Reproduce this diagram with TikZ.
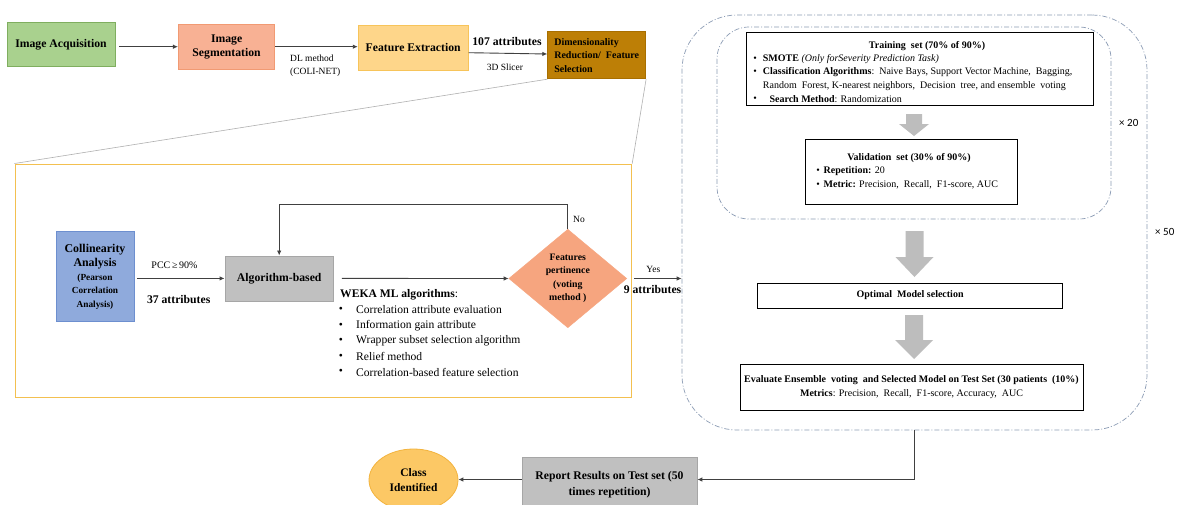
\documentclass[tikz,border=0pt]{standalone}
\usepackage{fontspec}
\setmainfont{Liberation Serif}
\newfontfamily\carl{Carlito}
\usetikzlibrary{arrows.meta,shapes.geometric,calc}
\definecolor{linec}{HTML}{404040}
\definecolor{gfill}{HTML}{A9D18E}
\definecolor{gdraw}{HTML}{7FAE5F}
\definecolor{sfill}{HTML}{F8B194}
\definecolor{sdraw}{HTML}{F19A73}
\definecolor{ffill}{HTML}{FED68A}
\definecolor{fdraw}{HTML}{F7C45A}
\definecolor{dfill}{HTML}{BD7F06}
\definecolor{ddraw}{HTML}{A86F00}
\definecolor{yel}{HTML}{F3C050}
\definecolor{cfill}{HTML}{8FAADC}
\definecolor{cdraw}{HTML}{6D8FCF}
\definecolor{agray}{HTML}{C0C0C0}
\definecolor{adraw}{HTML}{A6A6A6}
\definecolor{dmd}{HTML}{F6A57F}
\definecolor{dashc}{HTML}{8C9CB5}
\definecolor{arrg}{HTML}{BDBDBD}
\definecolor{efill}{HTML}{FCC865}
\definecolor{edraw}{HTML}{F3B33D}
\definecolor{zoomc}{HTML}{B0B0B0}
\newcommand\blkarrow[6]{%
  \fill[arrg] ({#1-#5},#2) -- ({#1+#5},#2) -- ({#1+#5},#3) -- ({#1+#6},#3) -- (#1,#4) -- ({#1-#6},#3) -- ({#1-#5},#3) -- cycle;}
\begin{document}
\begin{tikzpicture}[x=1pt,y=-1pt,
  arr/.style={draw=linec,line width=0.9pt,-{Latex[length=5pt,width=4.5pt]}},
  bx/.style={draw,line width=0.8pt,inner sep=1pt,align=center},
  fb/.style={font=\fontsize{11.7}{14}\selectfont\bfseries},
  fm/.style={font=\fontsize{10}{13}\selectfont},
  fs/.style={font=\fontsize{9.5}{13.4}\selectfont},
  fw/.style={font=\fontsize{11.6}{14}\selectfont},
  txt/.style={inner sep=0pt},
  wbox/.style={draw=black,line width=0.7pt,fill=white,inner sep=0pt},
  dd/.style={draw=dashc,line width=0.7pt,dash pattern=on 5pt off 2pt on 1pt off 2pt,inner sep=0pt},
]
\useasboundingbox (0,0) rectangle (1177,504);
\fill[white] (0,0) rectangle (1177,504);

% ---------- top row ----------
\node[bx,fb,fill=gfill,draw=gdraw,minimum width=108pt,minimum height=44.5pt] (IA) at (61,44.3) {Image Acquisition};
\node[bx,fb,fill=sfill,draw=sdraw,minimum width=96.5pt,minimum height=44.5pt] (IS) at (226.6,46.7) {Image\\Segmentation};
\node[bx,fb,fill=ffill,draw=fdraw,minimum width=110pt,minimum height=45pt] (FE) at (413.2,47.5) {Feature Extraction};
\node[bx,font=\fontsize{10}{13.3}\selectfont\bfseries,fill=dfill,draw=ddraw,minimum width=98pt,minimum height=47pt,align=left] (DR) at (596.7,55.3) {Dimensionality\\Reduction/\ \ Feature\\Selection};

\coordinate (iay) at (0,46.7);
\draw[arr,shorten <=4pt] (IA.east |- iay) -- (IS.west |- iay);
\draw[arr] (IS.east |- iay) -- (FE.west |- iay);
\draw[arr] ([yshift=-5.2pt]FE.east) -- ([yshift=1.3pt]DR.west);

\node[fs,txt,anchor=west,align=left] (dl) at (290,66) {DL method\\(COLI-NET)};
\node[fb,txt] (a107) at (507,41.7) {107 attributes};
\node[fs,txt] (slicer) at (505,67.7) {3D Slicer};

% ---------- zoomed area ----------
\node[draw=yel,line width=1pt,minimum width=616.7pt,minimum height=233.5pt,inner sep=0pt] (Y) at (323.35,280.75) {};
\draw[zoomc,line width=0.6pt] (DR.south west) -- (Y.north west);
\draw[zoomc,line width=0.6pt] (DR.south east) -- (Y.north east);

\node[bx,fill=cfill,draw=cdraw,minimum width=78pt,minimum height=90pt,font=\bfseries\fontsize{9.3}{13.4}\selectfont] (C) at (95,276.7)
  {{\fontsize{11.9}{14}\selectfont Collinearity}\\[1pt]{\fontsize{11.9}{14}\selectfont Analysis}\\(Pearson\\Correlation\\Analysis)};
\node[bx,fb,fill=agray,draw=adraw,minimum width=108.5pt,minimum height=45pt] (A) at (279.2,278.4) {Algorithm-based};
\draw[arr,shorten <=3pt] (C.east |- A.west) -- (A.west);
\node[fm,txt] (pcc) at (174.5,265) {PCC\,≥\,90\%};
\node[fb,txt] (a37) at (178.7,299.3) {37 attributes};

\node[diamond,fill=dmd,draw=dmd,minimum width=118pt,minimum height=98.5pt,inner sep=0pt,align=center,font=\bfseries\fontsize{9.8}{13.5}\selectfont] (D) at (567.8,278.5) {Features\\pertinence\\(voting\\method )};
\draw[arr,shorten <=8pt] (A.east) -- (D.west);
\draw[arr] (D.north) -- ++(0,-24.3) -| (A.north);
\node[fs,txt,anchor=west] (no) at (573,219.3) {No};

\node[fw,txt,anchor=west] (weka) at (340,295) {\textbf{WEKA ML algorithms}:};
\foreach \t [count=\i] in {Correlation attribute evaluation, Information gain attribute, Wrapper subset selection algorithm, Relief method, Correlation-based feature selection}{
  \node[fw,txt] (wbb\i) at (341,{294.5+15.5*\i}) {\textbullet};
  \node[fw,txt,anchor=west] (wb\i) at (356,{294.5+15.5*\i}) {\t};
}

% ---------- right block ----------
\node[dd,rounded corners=55pt,minimum width=465pt,minimum height=415pt] (O) at (914.5,222.5) {};
\node[dd,rounded corners=32pt,minimum width=394pt,minimum height=192pt] (I) at (914,123) {};

\draw[arr,shorten <=7pt] (D.east) -- (D.east -| O.west);
\node[fs,txt] (yes) at (653.3,269.3) {Yes};
\node[fb,txt] (a9) at (652.5,290) {9 attributes};

\node[wbox,minimum width=347pt,minimum height=73.5pt] (T) at (919.5,68.75) {};
\node[fm,txt] (Tt) at (927,46) {\textbf{Training\ \ set (70\% of 90\%)}};
\node[fm,txt] (Tb1) at (755,59) {\textbullet};
\node[fm,txt,anchor=west] (Tl1) at (762.7,59) {\textbf{SMOTE} \textit{(Only forSeverity Prediction Task)}};
\node[fm,txt] (Tb2) at (755,72.5) {\textbullet};
\node[fm,txt,anchor=west] (Tl2) at (762.7,72.5) {\textbf{Classification Algorithms}:\ \ Naive Bays, Support Vector Machine,\ \ Bagging,};
\node[fm,txt,anchor=west] (Tl3) at (762.7,86) {Random\ \ Forest, K-nearest neighbors,\ \ Decision\ \ tree, and ensemble\ \ voting};
\node[fm,txt] (Tb4) at (755,99) {\textbullet};
\node[fm,txt,anchor=west] (Tl4) at (769.3,99) {\textbf{Search Method}: Randomization};

\blkarrow{914}{114}{124}{136}{8}{15}

\node[wbox,minimum width=212pt,minimum height=65pt] (V) at (911,171.5) {};
\node[fm,txt] (Vt) at (909,158) {\textbf{Validation\ \ set (30\% of 90\%)}};
\node[fm,txt] (Vb1) at (818,171) {\textbullet};
\node[fm,txt,anchor=west] (Vl1) at (823.5,171) {\textbf{Repetition:} 20};
\node[fm,txt] (Vb2) at (818,185) {\textbullet};
\node[fm,txt,anchor=west] (Vl2) at (823.5,185) {\textbf{Metric:} Precision,\ \ Recall,\ \ F1-score, AUC};

\node[font=\carl\fontsize{11}{13}\selectfont,txt,anchor=west] (x20) at (1119,122.7) {× 20};
\node[font=\carl\fontsize{11}{13}\selectfont,txt,anchor=west] (x50) at (1155,231.7) {× 50};

\blkarrow{914.5}{231}{257}{277}{9}{19}

\node[wbox,fm,minimum width=304.8pt,minimum height=25pt] (Opt) at (910.1,295.5) {\textbf{Optimal\ \ Model selection}};

\blkarrow{914}{315}{340}{359}{9}{19}

\node[wbox,minimum width=343pt,minimum height=46pt,align=center,font=\fontsize{10}{14}\selectfont] (E) at (911.5,387.5)
  {\textbf{Evaluate Ensemble\ \ voting\ \ and Selected Model on Test Set (30 patients\ \ (10\%)}\\\textbf{Metrics}: Precision,\ \ Recall,\ \ F1-score, Accuracy,\ \ AUC};

% ---------- bottom ----------
\node[bx,fill=agray,draw=adraw,minimum width=175pt,minimum height=55pt,font=\fontsize{11.7}{15.6}\selectfont\bfseries] (R) at (609.5,484.5) {Report Results on Test set (50\\times repetition)};
\node[ellipse,fill=efill,draw=edraw,line width=0.8pt,minimum width=89pt,minimum height=62pt,inner sep=0pt,align=center,font=\fontsize{11.5}{15}\selectfont\bfseries] (CI) at (413.5,480) {Class\\Identified};

\coordinate (ob) at (914.3,430);
\coordinate (rr) at ([yshift=5pt]R.east);
\coordinate (rl) at ([yshift=5pt]R.west);
\draw[arr] (ob) |- (rr);
\draw[arr] (rl) -- (rl -| CI.east);
\end{tikzpicture}
\end{document}
